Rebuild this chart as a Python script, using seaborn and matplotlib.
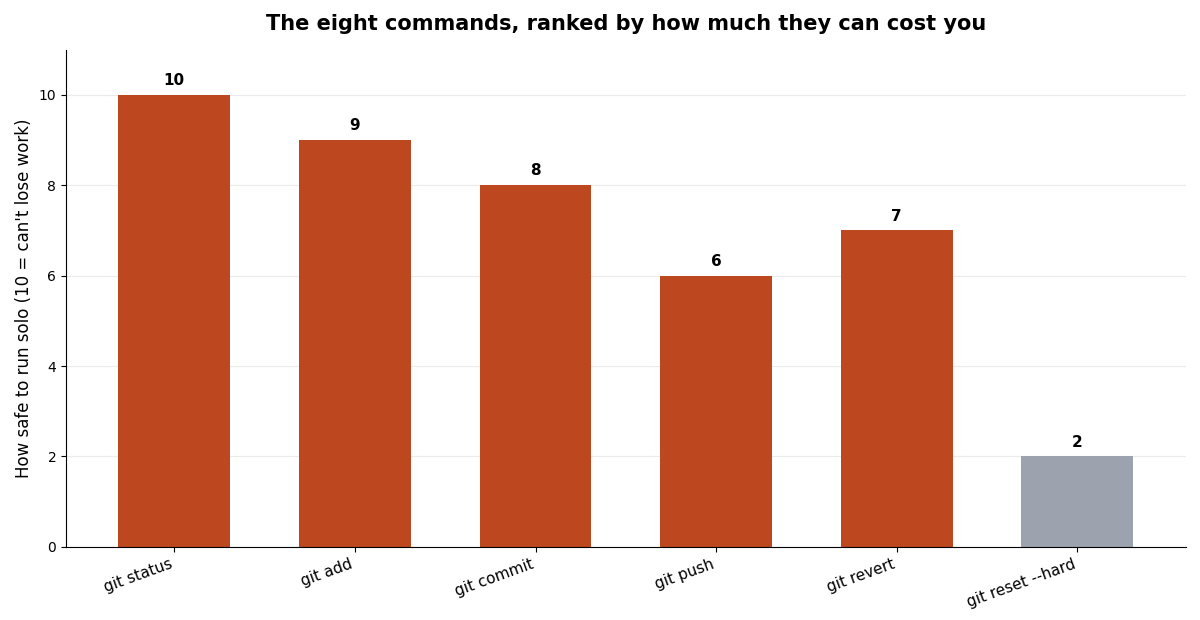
import matplotlib
matplotlib.use('Agg')
import matplotlib.pyplot as plt
import seaborn as sns
import pandas as pd

commands = ['git status', 'git add', 'git commit', 'git push', 'git revert', 'git reset --hard']
safety = [10, 9, 8, 6, 7, 2]
bar_colors = ['#BD471F', '#BD471F', '#BD471F', '#BD471F', '#BD471F', '#9CA3AE']

df = pd.DataFrame({'command': commands, 'safety': safety})

sns.set_style('white')
plt.rcParams['font.family'] = ['DejaVu Sans']
plt.rcParams['text.color'] = 'black'
plt.rcParams['axes.labelcolor'] = 'black'
plt.rcParams['xtick.color'] = 'black'
plt.rcParams['ytick.color'] = 'black'
plt.rcParams['axes.edgecolor'] = 'black'

fig, ax = plt.subplots(figsize=(12, 6.2), dpi=100)
sns.barplot(data=df, x='command', y='safety', hue='command', palette=bar_colors,
            legend=False, width=0.62, saturation=1, linewidth=0, edgecolor='none', ax=ax)

for i, v in enumerate(safety):
    ax.text(i, v + 0.15, str(v), ha='center', va='bottom', fontsize=11,
            fontweight='bold', color='black')

ax.set_ylim(0, 11)
ax.set_xlim(-0.6, 5.6)
ax.yaxis.grid(True, color='#ebebeb', linewidth=0.8)
ax.set_axisbelow(True)
ax.tick_params(axis='both', which='both', bottom=True, left=True, length=3.5)
ax.set_xlabel('')
ax.set_ylabel("How safe to run solo (10 = can't lose work)", fontsize=12)
ax.set_title('The eight commands, ranked by how much they can cost you',
             fontsize=15, fontweight='bold', pad=14)
plt.setp(ax.get_xticklabels(), rotation=20, ha='right', fontsize=11)
sns.despine(ax=ax)

plt.subplots_adjust(left=0.055, right=0.988, top=0.92, bottom=0.118)
plt.savefig('out.png', dpi=100)
